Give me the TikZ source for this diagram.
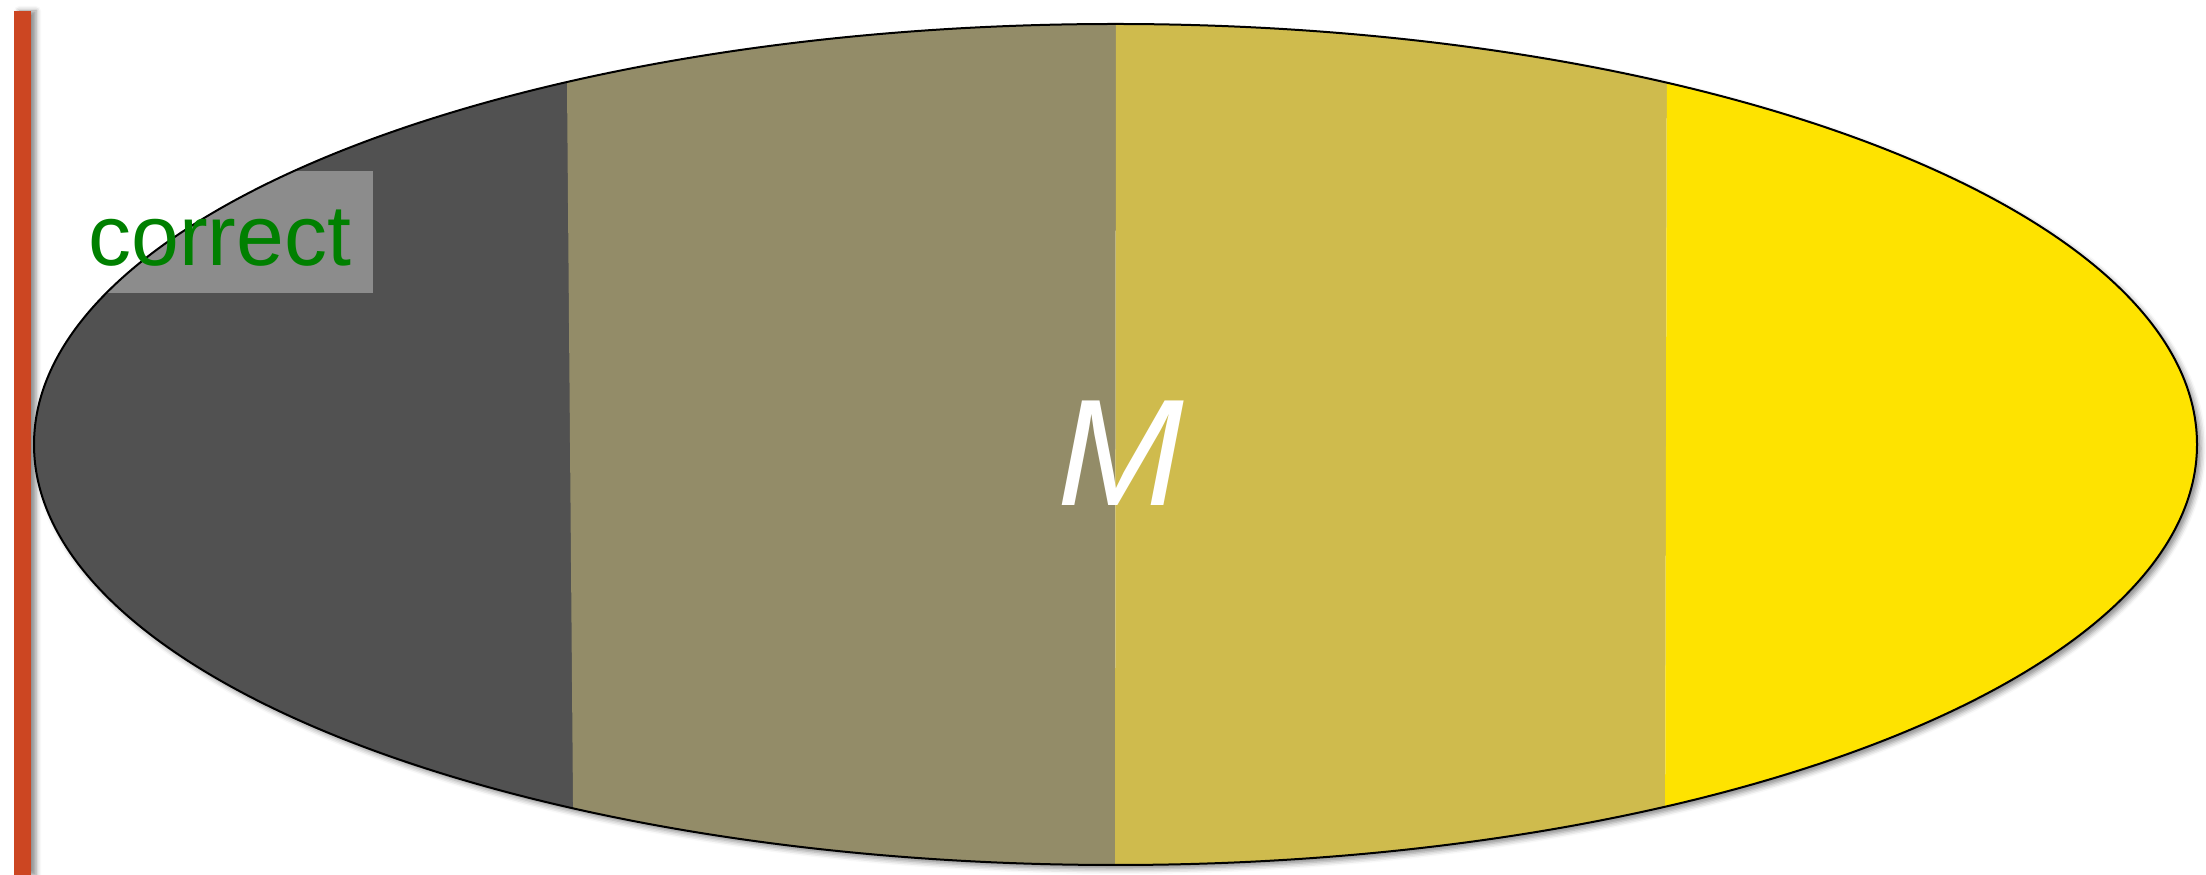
\documentclass[tikz,border=0pt]{standalone}
\usepackage{fontspec}
\setmainfont{Liberation Sans}
\usetikzlibrary{shadows.blur}
\definecolor{barred}{HTML}{CC4622}
\definecolor{stripeA}{HTML}{515151}
\definecolor{stripeB}{HTML}{938C68}
\definecolor{stripeC}{HTML}{CFBB4D}
\definecolor{stripeD}{HTML}{FEE300}
\definecolor{labelgreen}{HTML}{008000}
\tikzset{
  oval/.style={line width=2pt, draw=black},
  ovalshadow/.style={fill=white, blur shadow={shadow xshift=4pt, shadow yshift=-4pt, shadow blur radius=5pt, shadow opacity=45}},
  barshadow/.style={blur shadow={shadow xshift=5pt, shadow yshift=0pt, shadow blur radius=5pt, shadow opacity=45}},
  labelbox/.style={fill=white, fill opacity=0.34},
}
\begin{document}
\begin{tikzpicture}[x=1pt,y=1pt]
\useasboundingbox (0,0) rectangle (2206,875);
% red bar
\fill[barred, barshadow] (14,0) rectangle (31,864);
% ellipse shadow base
\path[ovalshadow] (1115.5,430.5) ellipse [x radius=1081.5, y radius=420.5];
\begin{scope}
  \clip (1115.5,430.5) ellipse [x radius=1081.5, y radius=420.5];
  \fill[stripeA] (0,0) rectangle (574,875);
  \fill[stripeB] (573.6,0) -- (566.3,875) -- (1116,875) -- (1115,0) -- cycle;
  \fill[stripeC] (1115,0) -- (1116,875) -- (1667,875) -- (1665,0) -- cycle;
  \fill[stripeD] (1665,0) -- (1667,875) -- (2206,875) -- (2206,0) -- cycle;
  \fill[labelbox] (0,582) rectangle (373,704);
\end{scope}
\draw[oval] (1115.5,430.5) ellipse [x radius=1081.5, y radius=420.5];
\node[anchor=base west, inner sep=0pt, text=labelgreen, font=\fontsize{86}{100}\selectfont] (lbl) at (88,609) {correct};
\node[anchor=base, inner sep=0pt, text=white, font=\fontsize{152}{170}\selectfont\itshape] (m) at (1121,369) {M};
\end{tikzpicture}
\end{document}
